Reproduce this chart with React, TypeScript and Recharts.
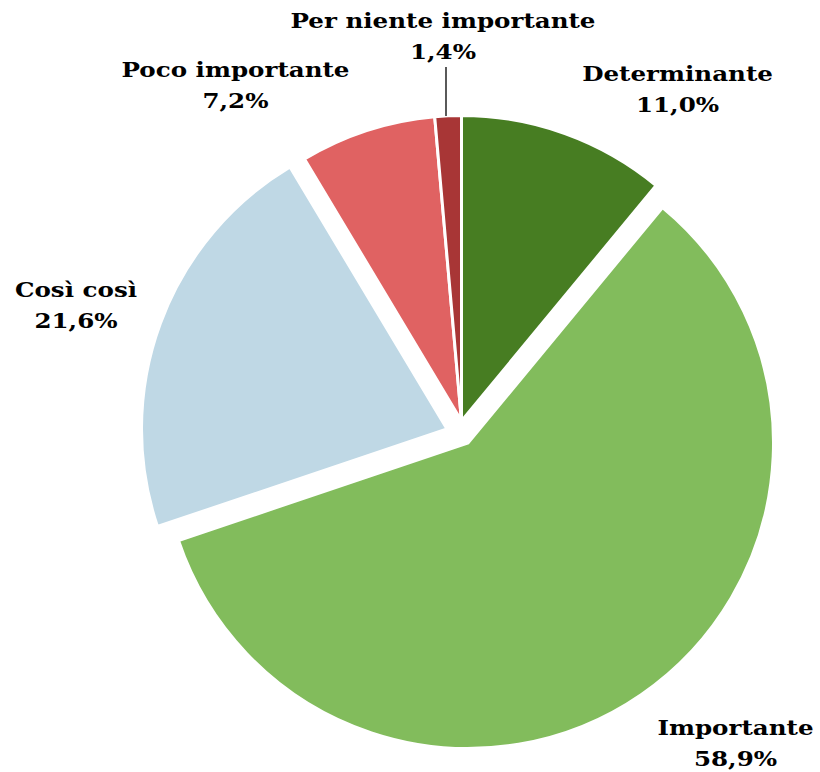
import { PieChart, Pie, Cell } from "recharts";

// categories and shares (percent), clockwise from 12 o'clock
const categories = [
  "Determinante",
  "Importante",
  "Così così",
  "Poco importante",
  "Per niente importante",
];
const shares = [11.0, 58.9, 21.6, 7.2, 1.4];

const sliceColors = ["#477d22", "#82bc5c", "#bfd8e5", "#e06262", "#a83636"];

// per-slice explosion (px) – only Importante and Così così are pulled out
const explode = [
  { dx: 0, dy: 0 },
  { dx: 6.5, dy: 22 },
  { dx: -14.5, dy: 8 },
  { dx: 0, dy: 0 },
  { dx: 0, dy: 0 },
];

// label anchor (center x, first baseline) relative to pie center
const labelAnchors = [
  { dx: 216, dy: -340 },
  { dx: 274, dy: 314 },
  { dx: -385.5, dy: -124 },
  { dx: -226, dy: -344 },
  { dx: -18.5, dy: -393 },
];
const leaderIndex = 4;

const data = categories.map((name, i) => ({ name, value: shares[i] }));

const CX = 461.5;
const CY = 421;
const R = 305.5;
const FONT = '"DejaVu Serif", serif';
const WIDEN = 1.17; // reference face is wider than DejaVu Serif

const fmt = (v: number) => v.toFixed(1).replace(".", ",") + "%";

function renderLabel(props: any) {
  const { cx, cy, index, outerRadius } = props;
  const a = labelAnchors[index];
  const x = cx + a.dx;
  const y = cy + a.dy;
  let leader = null;
  if (index === leaderIndex) {
    const lx = x + 3;
    const off = lx - cx;
    const y2 = cy - Math.sqrt(outerRadius * outerRadius - off * off);
    leader = (
      <line x1={lx} y1={y + 39} x2={lx} y2={y2} stroke="#000" strokeWidth={1.3} />
    );
  }
  return (
    <g key={`lbl-${index}`}>
      {leader}
      <text
        transform={`translate(${x},${y}) scale(${WIDEN},1)`}
        textAnchor="middle"
        fontFamily={FONT}
        fontWeight="bold"
        fontSize={21}
        fill="#000"
      >
        <tspan x={0} y={0}>
          {categories[index]}
        </tspan>
        <tspan x={0} y={31.5}>
          {fmt(shares[index])}
        </tspan>
      </text>
    </g>
  );
}

export default function App() {
  return (
    <div
      style={{
        position: "absolute",
        left: 0,
        top: 0,
        width: 820,
        height: 772,
        background: "#fff",
      }}
    >
      <PieChart width={820} height={772} margin={{ top: 0, right: 0, bottom: 0, left: 0 }}>
        {/* base pie: slices that stay in place, plus all labels */}
        <Pie
          data={data}
          dataKey="value"
          nameKey="name"
          cx={CX}
          cy={CY}
          outerRadius={R}
          startAngle={90}
          endAngle={-270}
          stroke="#fff"
          strokeWidth={3}
          label={renderLabel}
          labelLine={false}
          isAnimationActive={false}
        >
          {data.map((d, i) => {
            const moved = explode[i].dx !== 0 || explode[i].dy !== 0;
            return (
              <Cell
                key={d.name}
                fill={moved ? "transparent" : sliceColors[i]}
                stroke={moved ? "none" : "#fff"}
              />
            );
          })}
        </Pie>
        {/* exploded slices, one pie each */}
        {explode.map((e, k) =>
          e.dx === 0 && e.dy === 0 ? null : (
            <Pie
              key={`ex-${k}`}
              data={data}
              dataKey="value"
              nameKey="name"
              cx={CX + e.dx}
              cy={CY + e.dy}
              outerRadius={R}
              startAngle={90}
              endAngle={-270}
              strokeWidth={3}
              isAnimationActive={false}
            >
              {data.map((d, i) => (
                <Cell
                  key={d.name}
                  fill={i === k ? sliceColors[i] : "transparent"}
                  stroke={i === k ? "#fff" : "none"}
                />
              ))}
            </Pie>
          )
        )}
      </PieChart>
    </div>
  );
}
